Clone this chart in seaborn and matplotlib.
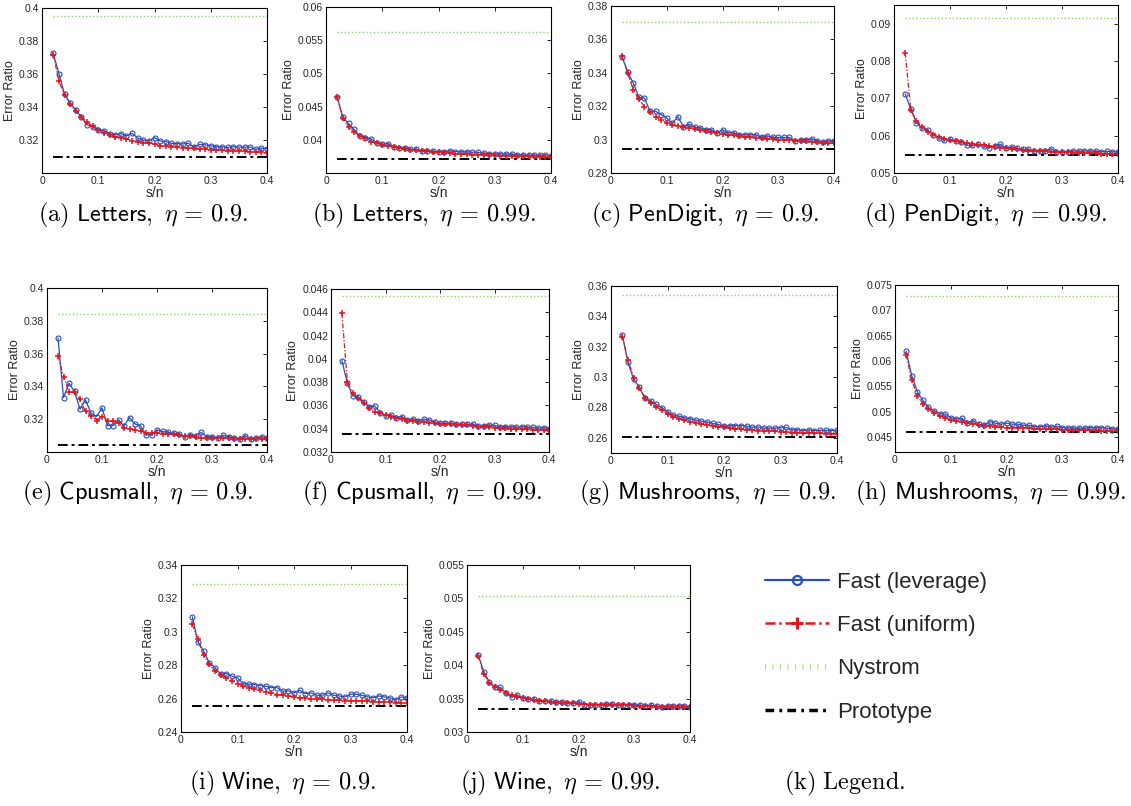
import matplotlib
matplotlib.use("Agg")
import matplotlib.pyplot as plt
import seaborn as sns
from matplotlib.lines import Line2D
from matplotlib.ticker import FuncFormatter

sns.set_theme(style="white")
plt.rcParams['font.family'] = ['Liberation Sans', 'DejaVu Sans']
plt.rcParams['mathtext.fontset'] = 'cm'

# ---------------- data ----------------
s_over_n = [0.02, 0.03, 0.04, 0.05, 0.06, 0.07, 0.08, 0.09, 0.10, 0.11,
            0.12, 0.13, 0.14, 0.15, 0.16, 0.17, 0.18, 0.19, 0.20, 0.21,
            0.22, 0.23, 0.24, 0.25, 0.26, 0.27, 0.28, 0.29, 0.30, 0.31,
            0.32, 0.33, 0.34, 0.35, 0.36, 0.37, 0.38, 0.39, 0.40]

a_lev = [0.3725, 0.3603, 0.3479, 0.3424, 0.3383, 0.3338, 0.3292, 0.3281, 0.3261, 0.3257,
         0.3237, 0.3233, 0.3239, 0.3226, 0.3241, 0.3212, 0.3200, 0.3194, 0.3214, 0.3194,
         0.3190, 0.3180, 0.3178, 0.3176, 0.3180, 0.3159, 0.3173, 0.3171, 0.3165, 0.3159,
         0.3159, 0.3155, 0.3159, 0.3157, 0.3157, 0.3157, 0.3143, 0.3151, 0.3147]
a_uni = [0.3717, 0.3560, 0.3470, 0.3418, 0.3373, 0.3338, 0.3310, 0.3283, 0.3260, 0.3245,
         0.3233, 0.3220, 0.3214, 0.3208, 0.3196, 0.3190, 0.3184, 0.3180, 0.3176, 0.3165,
         0.3163, 0.3159, 0.3155, 0.3153, 0.3149, 0.3149, 0.3145, 0.3143, 0.3141, 0.3139,
         0.3137, 0.3135, 0.3133, 0.3133, 0.3131, 0.3129, 0.3127, 0.3125, 0.3123]

b_lev = [0.04640, 0.04337, 0.04246, 0.04156, 0.04060, 0.04034, 0.04014, 0.03959, 0.03934, 0.03944,
         0.03894, 0.03883, 0.03883, 0.03858, 0.03858, 0.03833, 0.03833, 0.03828, 0.03823, 0.03823,
         0.03833, 0.03823, 0.03818, 0.03818, 0.03813, 0.03813, 0.03798, 0.03793, 0.03788, 0.03788,
         0.03788, 0.03782, 0.03772, 0.03772, 0.03767, 0.03767, 0.03767, 0.03772, 0.03762]
b_uni = [0.04640, 0.04327, 0.04196, 0.04125, 0.04050, 0.04024, 0.03974, 0.03949, 0.03924, 0.03903,
         0.03893, 0.03878, 0.03868, 0.03853, 0.03843, 0.03833, 0.03828, 0.03818, 0.03813, 0.03803,
         0.03798, 0.03793, 0.03788, 0.03782, 0.03777, 0.03777, 0.03772, 0.03767, 0.03767, 0.03762,
         0.03762, 0.03757, 0.03757, 0.03752, 0.03752, 0.03752, 0.03747, 0.03747, 0.03747]

c_lev = [0.3495, 0.3404, 0.3338, 0.3254, 0.3248, 0.3170, 0.3170, 0.3149, 0.3129, 0.3097,
         0.3137, 0.3077, 0.3093, 0.3073, 0.3071, 0.3059, 0.3059, 0.3041, 0.3059, 0.3041,
         0.3041, 0.3029, 0.3029, 0.3029, 0.3029, 0.3013, 0.3023, 0.3013, 0.3013, 0.3013,
         0.3013, 0.2993, 0.2999, 0.2999, 0.3005, 0.2993, 0.2985, 0.2993, 0.2989]
c_uni = [0.3499, 0.3398, 0.3298, 0.3242, 0.3198, 0.3167, 0.3137, 0.3117, 0.3101, 0.3089,
         0.3081, 0.3073, 0.3067, 0.3061, 0.3055, 0.3049, 0.3043, 0.3039, 0.3033, 0.3029,
         0.3025, 0.3021, 0.3017, 0.3015, 0.3011, 0.3007, 0.3005, 0.3001, 0.2999, 0.2997,
         0.2995, 0.2993, 0.2991, 0.2989, 0.2987, 0.2983, 0.2979, 0.2977, 0.2977]

d_lev = [0.0712, 0.0671, 0.0635, 0.0621, 0.0615, 0.0603, 0.0595, 0.0588, 0.0590, 0.0586,
         0.0584, 0.0574, 0.0574, 0.0577, 0.0573, 0.0568, 0.0573, 0.0577, 0.0567, 0.0570,
         0.0566, 0.0563, 0.0563, 0.0559, 0.0559, 0.0559, 0.0565, 0.0557, 0.0557, 0.0557,
         0.0559, 0.0558, 0.0559, 0.0559, 0.0558, 0.0557, 0.0558, 0.0557, 0.0556]
d_uni = [0.0822, 0.0669, 0.0640, 0.0624, 0.0611, 0.0602, 0.0597, 0.0592, 0.0588, 0.0585,
         0.0583, 0.0581, 0.0579, 0.0576, 0.0574, 0.0572, 0.0570, 0.0568, 0.0566, 0.0565,
         0.0563, 0.0561, 0.0560, 0.0559, 0.0558, 0.0558, 0.0557, 0.0556, 0.0555, 0.0555,
         0.0554, 0.0554, 0.0553, 0.0553, 0.0553, 0.0552, 0.0552, 0.0552, 0.0551]

e_lev = [0.3695, 0.3332, 0.3420, 0.3369, 0.3261, 0.3318, 0.3237, 0.3216, 0.3269, 0.3161,
         0.3161, 0.3196, 0.3159, 0.3210, 0.3171, 0.3159, 0.3106, 0.3106, 0.3135, 0.3125,
         0.3120, 0.3114, 0.3112, 0.3090, 0.3106, 0.3100, 0.3120, 0.3094, 0.3094, 0.3086,
         0.3102, 0.3094, 0.3088, 0.3080, 0.3100, 0.3080, 0.3084, 0.3094, 0.3084]
e_uni = [0.3587, 0.3460, 0.3363, 0.3363, 0.3322, 0.3247, 0.3222, 0.3192, 0.3216, 0.3192,
         0.3186, 0.3175, 0.3149, 0.3141, 0.3135, 0.3127, 0.3118, 0.3118, 0.3114, 0.3110,
         0.3108, 0.3108, 0.3102, 0.3098, 0.3096, 0.3094, 0.3086, 0.3086, 0.3086, 0.3084,
         0.3084, 0.3084, 0.3082, 0.3080, 0.3078, 0.3078, 0.3078, 0.3078, 0.3078]

f_lev = [0.03985, 0.03790, 0.03682, 0.03670, 0.03633, 0.03590, 0.03596, 0.03539, 0.03513, 0.03516,
         0.03496, 0.03504, 0.03473, 0.03484, 0.03470, 0.03481, 0.03476, 0.03456, 0.03447, 0.03447,
         0.03447, 0.03441, 0.03438, 0.03438, 0.03438, 0.03424, 0.03424, 0.03430, 0.03430, 0.03413,
         0.03418, 0.03416, 0.03413, 0.03418, 0.03413, 0.03413, 0.03404, 0.03410, 0.03401]
f_uni = [0.04391, 0.03805, 0.03705, 0.03662, 0.03619, 0.03581, 0.03547, 0.03533, 0.03516, 0.03504,
         0.03490, 0.03481, 0.03470, 0.03467, 0.03461, 0.03458, 0.03453, 0.03450, 0.03444, 0.03441,
         0.03438, 0.03436, 0.03433, 0.03430, 0.03427, 0.03418, 0.03416, 0.03413, 0.03410, 0.03407,
         0.03404, 0.03401, 0.03401, 0.03398, 0.03396, 0.03393, 0.03393, 0.03393, 0.03390]

g_lev = [0.3280, 0.3097, 0.2986, 0.2935, 0.2860, 0.2843, 0.2821, 0.2799, 0.2772, 0.2750,
         0.2743, 0.2732, 0.2726, 0.2717, 0.2710, 0.2704, 0.2695, 0.2688, 0.2677, 0.2681,
         0.2681, 0.2681, 0.2677, 0.2670, 0.2672, 0.2664, 0.2664, 0.2664, 0.2666, 0.2668,
         0.2653, 0.2653, 0.2648, 0.2653, 0.2648, 0.2650, 0.2650, 0.2648, 0.2650]
g_uni = [0.3267, 0.3112, 0.2997, 0.2931, 0.2865, 0.2829, 0.2803, 0.2781, 0.2759, 0.2739,
         0.2726, 0.2715, 0.2706, 0.2697, 0.2690, 0.2684, 0.2677, 0.2673, 0.2668, 0.2664,
         0.2659, 0.2655, 0.2653, 0.2651, 0.2648, 0.2646, 0.2644, 0.2642, 0.2640, 0.2637,
         0.2635, 0.2635, 0.2633, 0.2633, 0.2631, 0.2631, 0.2628, 0.2628, 0.2626]

h_lev = [0.0619, 0.0571, 0.0539, 0.0522, 0.0508, 0.0502, 0.0496, 0.0495, 0.0488, 0.0485,
         0.0487, 0.0477, 0.0482, 0.0475, 0.0473, 0.0480, 0.0477, 0.0475, 0.0477, 0.0475,
         0.0475, 0.0473, 0.0473, 0.0470, 0.0470, 0.0472, 0.0469, 0.0471, 0.0468, 0.0468,
         0.0467, 0.0467, 0.0467, 0.0468, 0.0468, 0.0468, 0.0467, 0.0466, 0.0465]
h_uni = [0.0612, 0.0563, 0.0531, 0.0515, 0.0505, 0.0497, 0.0491, 0.0487, 0.0483, 0.0481,
         0.0479, 0.0477, 0.0475, 0.0473, 0.0472, 0.0471, 0.0470, 0.0469, 0.0468, 0.0468,
         0.0468, 0.0467, 0.0467, 0.0466, 0.0465, 0.0465, 0.0465, 0.0465, 0.0464, 0.0464,
         0.0464, 0.0464, 0.0463, 0.0463, 0.0463, 0.0462, 0.0462, 0.0462, 0.0461]

i_lev = [0.3090, 0.2940, 0.2884, 0.2814, 0.2786, 0.2746, 0.2750, 0.2734, 0.2724, 0.2690,
         0.2686, 0.2684, 0.2678, 0.2674, 0.2666, 0.2666, 0.2644, 0.2646, 0.2634, 0.2650,
         0.2630, 0.2634, 0.2620, 0.2620, 0.2634, 0.2620, 0.2616, 0.2610, 0.2626, 0.2626,
         0.2620, 0.2610, 0.2606, 0.2616, 0.2610, 0.2604, 0.2594, 0.2610, 0.2604]
i_uni = [0.3044, 0.2954, 0.2860, 0.2806, 0.2764, 0.2740, 0.2724, 0.2706, 0.2690, 0.2676,
         0.2666, 0.2656, 0.2650, 0.2642, 0.2634, 0.2624, 0.2620, 0.2616, 0.2610, 0.2606,
         0.2602, 0.2600, 0.2598, 0.2596, 0.2592, 0.2590, 0.2590, 0.2588, 0.2588, 0.2586,
         0.2586, 0.2584, 0.2582, 0.2582, 0.2580, 0.2578, 0.2576, 0.2576, 0.2574]

j_lev = [0.0416, 0.0390, 0.0375, 0.0367, 0.0367, 0.0358, 0.0352, 0.0355, 0.0351, 0.0350,
         0.0349, 0.0346, 0.0346, 0.0346, 0.0345, 0.0345, 0.0344, 0.0343, 0.0345, 0.0341,
         0.0341, 0.0341, 0.0341, 0.0342, 0.0342, 0.0341, 0.0341, 0.0341, 0.0341, 0.0340,
         0.0339, 0.0340, 0.0339, 0.0338, 0.0339, 0.0339, 0.0339, 0.0339, 0.0338]
j_uni = [0.0414, 0.0387, 0.0374, 0.0367, 0.0363, 0.0358, 0.0355, 0.0353, 0.0351, 0.0350,
         0.0348, 0.0347, 0.0346, 0.0345, 0.0344, 0.0344, 0.0343, 0.0343, 0.0342, 0.0342,
         0.0341, 0.0341, 0.0341, 0.0341, 0.0340, 0.0340, 0.0340, 0.0340, 0.0339, 0.0339,
         0.0339, 0.0339, 0.0338, 0.0338, 0.0338, 0.0338, 0.0338, 0.0338, 0.0337]

nystrom = {'a': 0.3949, 'b': 0.05617, 'c': 0.3704, 'd': 0.0916, 'e': 0.3841,
           'f': 0.0454, 'g': 0.3538, 'h': 0.0728, 'i': 0.3284, 'j': 0.0504}
prototype = {'a': 0.3100, 'b': 0.03712, 'c': 0.2941, 'd': 0.0547, 'e': 0.3045,
             'f': 0.03358, 'g': 0.2604, 'h': 0.0459, 'i': 0.2554, 'j': 0.0335}

datasets = {'a': 'Letters', 'b': 'Letters', 'c': 'PenDigit', 'd': 'PenDigit',
            'e': 'Cpusmall', 'f': 'Cpusmall', 'g': 'Mushrooms', 'h': 'Mushrooms',
            'i': 'Wine', 'j': 'Wine'}
etas = {'a': '0.9', 'b': '0.99', 'c': '0.9', 'd': '0.99', 'e': '0.9',
        'f': '0.99', 'g': '0.9', 'h': '0.99', 'i': '0.9', 'j': '0.99'}
leverage = {'a': a_lev, 'b': b_lev, 'c': c_lev, 'd': d_lev, 'e': e_lev,
            'f': f_lev, 'g': g_lev, 'h': h_lev, 'i': i_lev, 'j': j_lev}
uniform = {'a': a_uni, 'b': b_uni, 'c': c_uni, 'd': d_uni, 'e': e_uni,
           'f': f_uni, 'g': g_uni, 'h': h_uni, 'i': i_uni, 'j': j_uni}

yticks = {
    'a': [0.32, 0.34, 0.36, 0.38, 0.4],
    'b': [0.04, 0.045, 0.05, 0.055, 0.06],
    'c': [0.28, 0.3, 0.32, 0.34, 0.36, 0.38],
    'd': [0.05, 0.06, 0.07, 0.08, 0.09],
    'e': [0.32, 0.34, 0.36, 0.38, 0.4],
    'f': [0.032, 0.034, 0.036, 0.038, 0.04, 0.042, 0.044, 0.046],
    'g': [0.26, 0.28, 0.3, 0.32, 0.34, 0.36],
    'h': [0.045, 0.05, 0.055, 0.06, 0.065, 0.07, 0.075],
    'i': [0.24, 0.26, 0.28, 0.3, 0.32, 0.34],
    'j': [0.03, 0.035, 0.04, 0.045, 0.05, 0.055],
}
ylims = {'a': (0.30, 0.40), 'b': (0.035, 0.06), 'c': (0.28, 0.38), 'd': (0.05, 0.095),
         'e': (0.30, 0.40), 'f': (0.032, 0.046), 'g': (0.25, 0.36), 'h': (0.042, 0.075),
         'i': (0.24, 0.34), 'j': (0.03, 0.055)}
xticks = [0, 0.1, 0.2, 0.3, 0.4]

# ---------------- layout (pixels: left, right, top, bottom) ----------------
W, H = 1131, 806
boxes = {'a': (42, 267, 8, 173), 'b': (326, 551, 7, 173), 'c': (611, 834, 6, 173),
         'd': (894, 1118, 5, 173), 'e': (47, 267, 288, 452), 'f': (331, 549, 289, 452),
         'g': (611, 837, 286, 453), 'h': (895, 1118, 285, 452), 'i': (181, 407, 565, 732),
         'j': (467, 690, 565, 732)}
captions_xy = {'a': (143, 215), 'b': (424, 215), 'c': (705, 215), 'd': (985, 215),
               'e': (138, 493), 'f': (422, 493), 'g': (708, 493), 'h': (990, 493),
               'i': (283, 783), 'j': (560, 783)}

BLUE = '#2a4db8'
RED = '#e8141b'
GREEN = '#8fd46c'
TXT = '#262626'
CAP_SIZE = 17.5

fig = plt.figure(figsize=(W / 100, H / 100), dpi=100)
fig.patch.set_facecolor('white')

fmt = FuncFormatter(lambda v, p: ('%g' % round(v, 5)))

for k, (l, r, t, b) in boxes.items():
    ax = fig.add_axes([l / W, 1 - b / H, (r - l) / W, (b - t) / H])
    ax.set_facecolor('white')
    x_ends = [s_over_n[0], s_over_n[-1]]
    sns.lineplot(x=x_ends, y=[nystrom[k]] * 2, ax=ax, color=GREEN, lw=1.0,
                 linestyle=(0, (1, 1.6)))
    sns.lineplot(x=x_ends, y=[prototype[k]] * 2, ax=ax, color='black', lw=1.4,
                 linestyle=(0, (5, 2, 1.5, 2)))
    sns.lineplot(x=s_over_n, y=leverage[k], ax=ax, color=BLUE, lw=0.9,
                 marker='o', markersize=3.6, markerfacecolor='none',
                 markeredgecolor=BLUE, markeredgewidth=0.8)
    sns.lineplot(x=s_over_n, y=uniform[k], ax=ax, color=RED, lw=0.9,
                 linestyle=(0, (4, 1.5, 1, 1.5)), marker='+', markersize=4.5,
                 markeredgecolor=RED, markeredgewidth=1.1)
    ax.set_xlim(0, 0.4)
    ax.set_ylim(*ylims[k])
    ax.set_xticks(xticks)
    ax.set_yticks(yticks[k])
    ax.xaxis.set_major_formatter(fmt)
    ax.yaxis.set_major_formatter(fmt)
    ax.tick_params(direction='in', length=3, width=0.6, top=True, right=True,
                   labelsize=7.5, colors='black', labelcolor=TXT, pad=2)
    for sp in ax.spines.values():
        sp.set_color('black')
        sp.set_linewidth(0.8)
        sp.set_visible(True)
    ax.set_xlabel('s/n', fontsize=10, color=TXT, labelpad=0)
    ax.set_ylabel('Error Ratio', fontsize=9, color=TXT, labelpad=2)
    cx, cy = captions_xy[k]
    label = r'$\mathrm{(%s)}\ \mathsf{%s},\ \eta\,=\,%s.$' % (k, datasets[k], etas[k])
    fig.text(cx / W, 1 - cy / H, label, ha='center', va='center',
             fontsize=CAP_SIZE, color='black')

# legend panel (k)
handles = [
    Line2D([], [], color=BLUE, lw=1.6, marker='o', markersize=6.5, markerfacecolor='none',
           markeredgecolor=BLUE, markeredgewidth=1.6),
    Line2D([], [], color=RED, lw=1.8, linestyle=(0, (4, 1.5, 1, 1.5)), marker='+',
           markersize=9, markeredgewidth=2.2),
    Line2D([], [], color=GREEN, lw=4.0, linestyle=(0, (0.15, 1.2))),
    Line2D([], [], color='black', lw=2.5, linestyle=(0, (2.5, 1.5, 0.8, 1.5))),
]
labels = ['Fast (leverage)', 'Fast (uniform)', 'Nystrom', 'Prototype']
fig.legend(handles, labels, loc='upper left', bbox_to_anchor=(756 / W, 1 - 563 / H),
           frameon=False, fontsize=16, handlelength=2.9, handletextpad=0.35,
           labelspacing=1.0, borderaxespad=0, labelcolor=TXT)
fig.text(845 / W, 1 - 783 / H, r'$\mathrm{(k)\ Legend.}$', ha='center', va='center',
         fontsize=CAP_SIZE, color='black')

fig.savefig('out.png', dpi=100, facecolor='white')
